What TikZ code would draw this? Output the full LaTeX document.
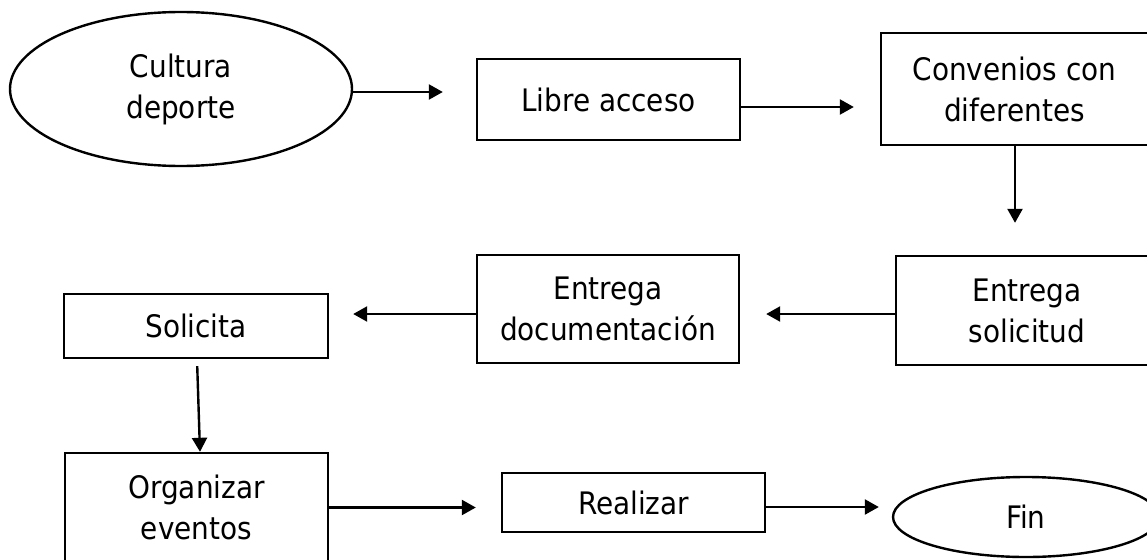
\documentclass[tikz,border=0pt]{standalone}
\usepackage{fontspec}
\setmainfont{DejaVu Sans Condensed}
\usetikzlibrary{arrows.meta,shapes.geometric}
\begin{document}
\begin{tikzpicture}[x=1pt,y=-1pt,
  every node/.style={font=\fontsize{31}{41}\selectfont, align=center, inner sep=0pt},
  box/.style={draw, line width=2.4pt, rectangle},
  oval/.style={draw, line width=2.4pt, ellipse},
  arr/.style={line width=2.4pt, -{Triangle[length=14pt,width=15pt]}}]
\useasboundingbox (0,0) rectangle (1147,559);
\clip (0,0) rectangle (1147,559);
\fill[white] (0,0) rectangle (1147,559);
\node[oval, minimum width=342pt, minimum height=154pt] (cultura) at (181,89) {Cultura\\deporte};
\node[box, minimum width=263pt, minimum height=81pt] (libre) at (608.5,99.5) {Libre acceso};
\node[box, minimum width=267pt, minimum height=112pt] (conv) at (1014.5,89) {Convenios con\\diferentes};
\node[box, minimum width=262pt, minimum height=109pt] (esol) at (1027,310.5) {Entrega\\solicitud};
\node[box, minimum width=262pt, minimum height=108pt] (edoc) at (608,309) {Entrega\\documentación};
\node[box, minimum width=264pt, minimum height=64pt] (soli) at (196,326) {Solicita};
\node[box, minimum width=263pt, minimum height=109pt] (org) at (196.5,507.5) {Organizar\\eventos};
\node[box, minimum width=263pt, minimum height=59pt] (real) at (633.5,502.5) {Realizar};
\node[oval, minimum width=266pt, minimum height=80pt] (fin) at (1026,517) {Fin};
\draw[arr, shorten >=33pt] ([yshift=-3pt]cultura.east) -- ([yshift=-3pt]cultura.east -| libre.west);
\draw[arr, shorten >=26pt] ([yshift=-7.5pt]libre.east) -- ([yshift=-7.5pt]libre.east -| conv.west);
\draw[arr, shorten >=32pt] ([xshift=0.5pt]conv.south) -- ([xshift=0.5pt]conv.south |- esol.north);
\draw[arr, shorten >=26pt] ([yshift=-3.5pt]esol.west) -- ([yshift=-3.5pt]esol.west -| edoc.east);
\draw[arr, shorten >=24pt] ([yshift=-5pt]edoc.west) -- ([yshift=-5pt]edoc.west -| soli.east);
\draw[arr, shorten <=7pt] ([xshift=1pt]soli.south) -- ([xshift=3.5pt]org.north);
\draw[arr, shorten >=25pt] (org.east) -- (org.east -| real.west);
\draw[arr, shorten >=13pt] ([yshift=-4.5pt]real.east) -- ([yshift=-4.5pt]real.east -| fin.west);
\end{tikzpicture}
\end{document}
